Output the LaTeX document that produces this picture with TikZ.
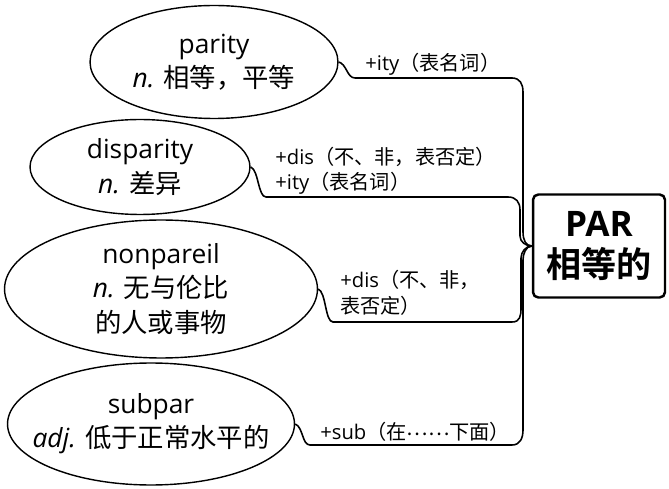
\documentclass[tikz,border=0pt]{standalone}
\usepackage{fontspec}
\setmainfont{Open Sans}
\newfontfamily\cjk{Noto Sans CJK SC}[BoldFont={Noto Sans CJK SC Bold}]
\usetikzlibrary{shapes.geometric}
\newcommand\zh[1]{{\cjk #1}}

\begin{document}
\begin{tikzpicture}[
  x=0.02cm, y=-0.02cm,
  word/.style={ellipse, draw, line width=0.8pt, inner sep=0pt},
  wtext/.style={align=center, inner sep=0pt, font=\fontsize{15}{19.5}\selectfont},
  root/.style={draw, line width=1.4pt, rounded corners=3pt, align=center,
               font=\bfseries\fontsize{20}{23}\selectfont},
  lbl/.style={anchor=west, inner sep=0pt, align=left, font=\fontsize{11.5}{14.5}\selectfont},
  link/.style={line width=0.9pt}
]
\useasboundingbox (0,0) rectangle (669,489);

% root word
\node[root, minimum width=2.64cm, minimum height=2.06cm] (par) at (599,246) {PAR\\\zh{相等的}};

% derived words
\node[word, minimum width=4.96cm, minimum height=2.26cm,
  label={[wtext]center:{parity\\\textit{n.} \zh{相等，平等}}}] (parity) at (214,62) {};
\node[word, minimum width=4.4cm, minimum height=1.9cm,
  label={[wtext]center:{disparity\\\textit{n.} \zh{差异}}}] (disparity) at (140,167) {};
\node[word, minimum width=6.26cm, minimum height=2.76cm,
  label={[wtext]center:{nonpareil\\\textit{n.} \zh{无与伦比}\\\zh{的人或事物}}}] (nonpareil) at (161,289) {};
\node[word, minimum width=5.74cm, minimum height=2.44cm,
  label={[wtext]center:{subpar\\\textit{adj.} \zh{低于正常水平的}}}] (subpar) at (151,424) {};

% affix labels
\node[lbl] (l1) at (365,64) {+ity\zh{（表名词）}};
\node[lbl] (l2) at (275,171) {+dis\zh{（不、非，表否定）}\\+ity\zh{（表名词）}};
\node[lbl] (l3) at (340,293) {+dis\zh{（不、非，}\\\zh{表否定）}};
\node[lbl] (l4) at (320,432) {+sub\zh{（在}\raisebox{.35ex}{\zh{……}}\zh{下面）}};

% connectors
\draw[link] (parity.east) .. controls +(8,2) and +(-8,0) .. (355,78) -- (512,78)
  .. controls +(8,0) and +(0,-8) .. (523,92) -- (523,232)
  .. controls +(0,8) and +(-6,0) .. (par.west);
\draw[link] (disparity.east) .. controls +(8,3) and +(-8,0) .. (266,197) -- (508,197)
  .. controls +(8,0) and +(0,-8) .. (520,210) -- (520,236)
  .. controls +(0,6) and +(-6,0) .. (par.west);
\draw[link] (nonpareil.east) .. controls +(8,3) and +(-8,0) .. (333,322) -- (512,322)
  .. controls +(8,0) and +(0,8) .. (521,308) -- (521,258)
  .. controls +(0,-6) and +(-6,0) .. (par.west);
\draw[link] (subpar.east) .. controls +(8,3) and +(-8,0) .. (310,445) -- (512,445)
  .. controls +(8,0) and +(0,8) .. (523,430) -- (523,260)
  .. controls +(0,-6) and +(-6,0) .. (par.west);
\end{tikzpicture}
\end{document}
